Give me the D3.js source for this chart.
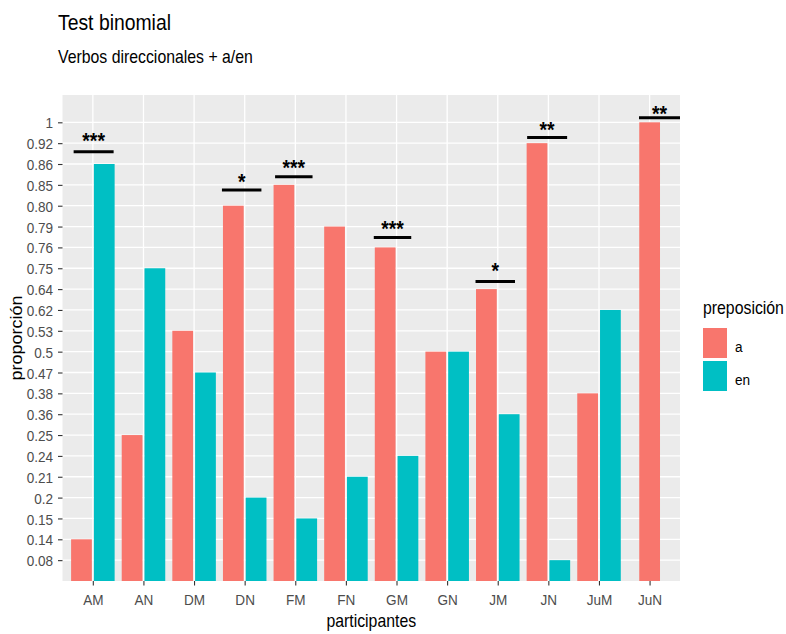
<!DOCTYPE html>
<html>
<head>
<meta charset="utf-8">
<script src="https://cdn.jsdelivr.net/npm/d3@7"></script>
<style>
  html, body { margin: 0; padding: 0; background: #ffffff; }
  svg { display: block; font-family: "Liberation Sans", Arial, sans-serif; }
</style>
</head>
<body>
<svg id="chart" width="786" height="634"></svg>
<script>
// ---------- data ----------
const participants = ["AM","AN","DM","DN","FM","FN","GM","GN","JM","JN","JuM","JuN"];
// discrete y categories (bottom to top), as shown on the axis
const yLabels = ["0.08","0.14","0.15","0.2","0.21","0.24","0.25","0.36","0.38","0.47","0.5",
                 "0.53","0.62","0.64","0.75","0.76","0.79","0.80","0.85","0.86","0.92","1"];
const prepositions = ["a","en"];
const valuesA  = ["0.14","0.25","0.53","0.80","0.85","0.79","0.76","0.5","0.64","0.92","0.38","1"];
const valuesEn = ["0.86","0.75","0.47","0.2","0.15","0.21","0.24","0.5","0.36","0.08","0.62",null];
const colors = ["#F8766D","#00BFC4"];
// significance annotations (y in discrete-axis units)
const annCats   = ["AM","DN","FM","GM","JM","JN","JuN"];
const annLabels = ["***","*","***","***","*","**","**"];
const annLineY  = [20.59,18.75,19.39,16.47,14.37,21.27,22.22];
const annTextY  = [21.39,19.42,20.06,17.16,15.11,21.90,22.66];
const annXmin   = [-0.38,-0.45,-0.40,-0.45,-0.44,-0.42,-0.21];
const annXmax   = [ 0.41, 0.33, 0.34, 0.29, 0.34, 0.37, 0.62];

// ---------- layout ----------
const sx = 0.88;               // horizontal compression of the whole picture
const X = v => v / sx;
const panel = {left: 62.5, right: 680, top: 95, bottom: 581};

const svg = d3.select("#chart");
const g = svg.append("g").attr("transform", `scale(${sx},1)`);

const x = d3.scalePoint().domain(participants).range([X(panel.left), X(panel.right)]).padding(0.6);
const step = x.step();
const y = d3.scaleLinear().domain([0, 23.31]).range([panel.bottom, panel.top]);
const yIndex = lab => yLabels.indexOf(lab) + 1;

// titles
g.append("text").attr("x", X(58)).attr("y", 30.5).attr("font-size", 22).attr("fill", "#000").text("Test binomial");
g.append("text").attr("x", X(58)).attr("y", 63).attr("font-size", 18).attr("fill", "#000").text("Verbos direccionales + a/en");

// panel
g.append("rect").attr("x", X(panel.left)).attr("y", panel.top)
  .attr("width", X(panel.right) - X(panel.left)).attr("height", panel.bottom - panel.top).attr("fill", "#EBEBEB");

const ticksY = d3.range(1, yLabels.length + 1);
g.append("g").selectAll("line").data(ticksY).join("line")
  .attr("x1", X(panel.left)).attr("x2", X(panel.right))
  .attr("y1", d => y(d)).attr("y2", d => y(d))
  .attr("stroke", "#fff").attr("stroke-width", 1.3);
g.append("g").selectAll("line").data(participants).join("line")
  .attr("x1", d => x(d)).attr("x2", d => x(d))
  .attr("y1", panel.top).attr("y2", panel.bottom)
  .attr("stroke", "#fff").attr("stroke-width", 1.3 / sx);

// bars
const bars = [];
participants.forEach((p, i) => {
  const hasEn = valuesEn[i] !== null;
  bars.push({p, k: 0, v: valuesA[i], off: hasEn ? -0.225 : 0});
  if (hasEn) bars.push({p, k: 1, v: valuesEn[i], off: 0.225});
});
const bw = 0.41 * step;
g.append("g").selectAll("rect").data(bars).join("rect")
  .attr("x", d => x(d.p) + d.off * step - bw / 2)
  .attr("width", bw)
  .attr("y", d => y(yIndex(d.v)))
  .attr("height", d => y(0) - y(yIndex(d.v)))
  .attr("fill", d => colors[d.k]);

// annotations
svg.append("defs").append("clipPath").attr("id", "pclip").append("rect")
  .attr("x", X(panel.left)).attr("y", 0).attr("width", X(panel.right) - X(panel.left)).attr("height", 634);
const ann = annCats.map((c, i) => ({c, lab: annLabels[i], ly: annLineY[i], ty: annTextY[i], x0: annXmin[i], x1: annXmax[i]}));
const ag = g.append("g").attr("clip-path", "url(#pclip)");
ag.selectAll("line").data(ann).join("line")
  .attr("x1", d => x(d.c) + d.x0 * step).attr("x2", d => x(d.c) + d.x1 * step)
  .attr("y1", d => y(d.ly)).attr("y2", d => y(d.ly))
  .attr("stroke", "#000").attr("stroke-width", 3);
g.append("g").selectAll("text").data(ann).join("text")
  .attr("x", d => x(d.c) + (d.x0 + Math.min(d.x1, 0.6)) / 2 * step)
  .attr("y", d => y(d.ty) + 12.5)
  .attr("text-anchor", "middle").attr("font-size", 22).attr("font-weight", "bold").attr("fill", "#000")
  .text(d => d.lab);

// axes
const yAxis = g.append("g").attr("transform", `translate(${X(panel.left)},0)`)
  .call(d3.axisLeft(y).tickValues(ticksY).tickFormat(i => yLabels[i - 1]).tickSize(4.5 / sx));
yAxis.select(".domain").remove();
yAxis.selectAll(".tick line").attr("stroke", "#333").attr("stroke-width", 1.1);
yAxis.selectAll("text").attr("x", -9.5 / sx).attr("dy", "0.36em")
  .attr("font-size", 15.4).attr("fill", "#4D4D4D").attr("font-family", null);

const xAxis = g.append("g").attr("transform", `translate(0,${panel.bottom})`)
  .call(d3.axisBottom(x).tickSize(4.5));
xAxis.select(".domain").remove();
xAxis.selectAll(".tick line").attr("stroke", "#333").attr("stroke-width", 1.1 / sx);
xAxis.selectAll("text").attr("y", 24.5).attr("dy", null)
  .attr("font-size", 15.4).attr("fill", "#4D4D4D").attr("font-family", null);
svg.selectAll(".tick text").attr("font-family", "Liberation Sans, Arial, sans-serif");
svg.selectAll("g[font-family]").attr("font-family", null).attr("font-size", null);

// axis titles
g.append("text").attr("x", (X(panel.left) + X(panel.right)) / 2).attr("y", 627.5)
  .attr("text-anchor", "middle").attr("font-size", 18).attr("fill", "#000").text("participantes");
g.append("text").attr("transform", `translate(${X(22)},${(panel.top + panel.bottom) / 2}) rotate(-90)`)
  .attr("text-anchor", "middle").attr("font-size", 18).attr("fill", "#000").text("proporción");

// legend
const lg = g.append("g");
lg.append("text").attr("x", X(703)).attr("y", 314).attr("font-size", 18).attr("fill", "#000").text("preposición");
const items = lg.selectAll("g.item").data(prepositions).join("g").attr("class", "item");
items.append("rect").attr("x", X(703)).attr("width", X(727) - X(703))
  .attr("y", (d, i) => 328 + i * 33).attr("height", 30)
  .attr("fill", (d, i) => colors[i]);
items.append("text").attr("x", X(735)).attr("y", (d, i) => 352.5 + i * 33)
  .attr("font-size", 15.4).attr("fill", "#000").text(d => d);
</script>
</body>
</html>
